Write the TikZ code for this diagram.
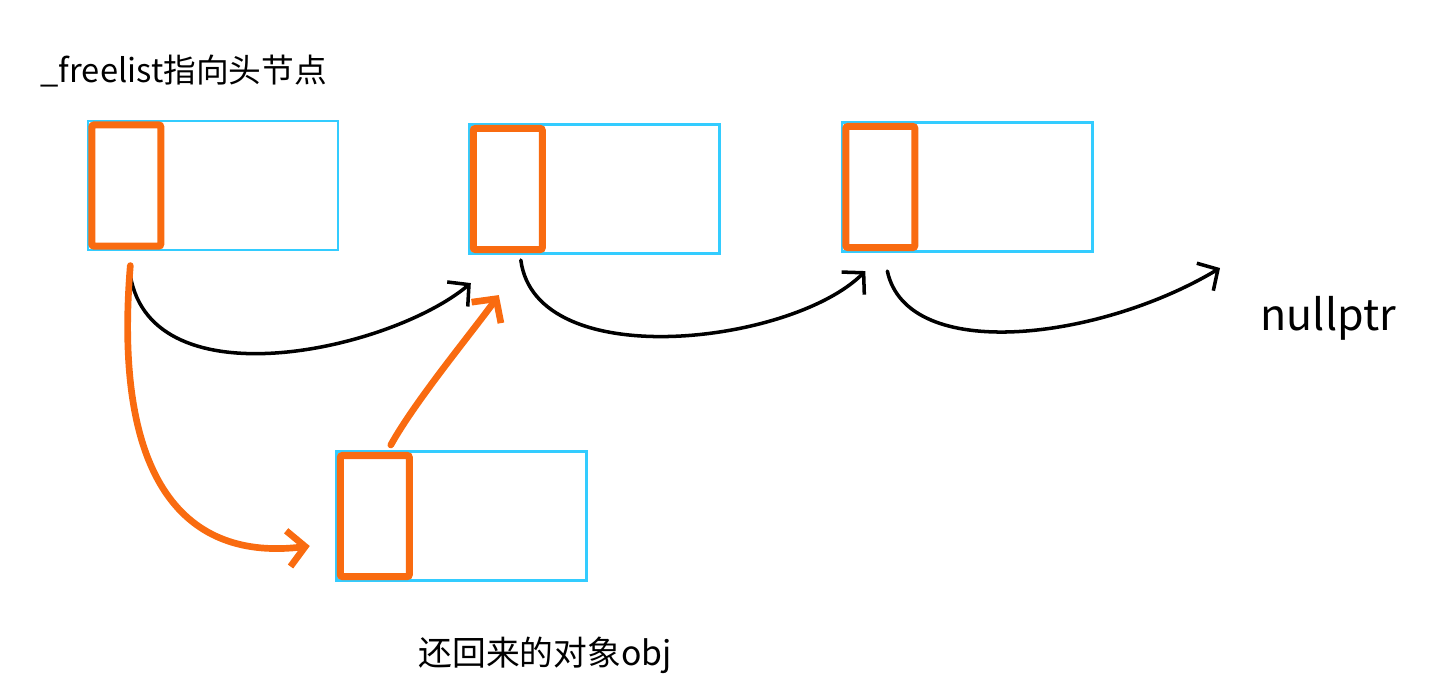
\documentclass[tikz,border=0pt]{standalone}
\usepackage{fontspec}
\newfontfamily\cjk{Noto Sans CJK SC}
\usepackage{tikz}
\usetikzlibrary{arrows.meta,calc}
\definecolor{cellblue}{RGB}{51,204,255}
\definecolor{ptrorange}{RGB}{249,107,16}

\begin{document}
\begin{tikzpicture}[x=0.01cm,y=-0.01cm,
  cell/.style={draw=cellblue,line width=0.8pt,minimum width=2.50cm,minimum height=1.29cm,inner sep=0pt},
  ptr/.style={draw=ptrorange,line width=2pt,rounded corners=0.6pt,minimum width=0.69cm,minimum height=1.21cm,inner sep=0pt,anchor=west},
  link/.style={black,line width=1pt,line cap=round,-{Straight Barb[length=1.5mm,width=3.2mm]}},
  back/.style={ptrorange,line width=1.9pt,line cap=round,-{Straight Barb[length=1.7mm,width=3.6mm]}},
  lbl/.style={font=\cjk\fontsize{9.6}{11}\selectfont,inner sep=0pt}]
\useasboundingbox (0,0) rectangle (1437,684);
% ---- free list nodes ----
\node[cell] (c1) at (213,185.5) {};
\node[ptr]  (p1) at ([xshift=0.5pt]c1.west) {};
\node[cell] (c2) at (594.5,189) {};
\node[ptr]  (p2) at ([xshift=0.5pt]c2.west) {};
\node[cell] (c3) at (967,187) {};
\node[ptr]  (p3) at ([xshift=0.5pt]c3.west) {};
% ---- returned object ----
\node[cell] (c4) at (461.5,516) {};
\node[ptr]  (p4) at ([xshift=0.5pt]c4.west) {};
% ---- labels ----
\node[lbl,anchor=base west,font=\cjk\fontsize{9.3}{11}\selectfont] (head) at (40,82) {\_freelist指向头节点};
\node[lbl,anchor=base west] (obj) at (418,665) {还回来的对象obj};
\node[lbl,anchor=base west,font=\cjk\fontsize{12.2}{14}\selectfont] (null) at (1260,330) {nullptr};
\coordinate (tonull) at ($(null.base west)+(-40,-62)$);
% ---- links ----
\draw[link] ($(p1.south)+(4,26)$) .. controls +(22,128) and +(-80,67) .. ($(p2.south)+(-37,30)$);
\draw[link] ($(p2.south)+(13,7)$) .. controls +(15,115) and +(-73,73) .. ($(p3.south)+(-15,20)$);
\draw[link] ($(p3.south)+(7,20)$) .. controls +(20,93) and +(-120,72) .. (tonull);
% ---- push back ----
\draw[back] ($(p1.south)+(4,16)$) .. controls +(-18,218) and +(-123,15) .. ($(p4.west)+(-27,30)$);
\draw[back] ($(p4.north)+(16,-7)$) .. controls +(25,-45) and +(-25,35) .. ($(p2.south)+(-9,42)$);
\end{tikzpicture}
\end{document}
